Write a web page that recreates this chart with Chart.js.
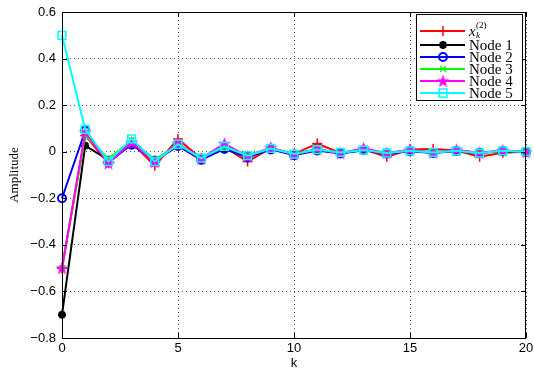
<!DOCTYPE html>
<html>
<head>
<meta charset="utf-8">
<script src="https://cdn.jsdelivr.net/npm/chart.js@4.4.0/dist/chart.umd.min.js"></script>
<style>
  html, body { margin: 0; padding: 0; background: #fff; }
  #wrap { width: 534px; height: 372px; }
</style>
</head>
<body>
<div id="wrap"><canvas id="chart"></canvas></div>
<script>
const steps = [0, 1, 2, 3, 4, 5, 6, 7, 8, 9, 10, 11, 12, 13, 14, 15, 16, 17, 18, 19, 20];

const xk2   = [-0.5, 0.07, -0.05, 0.04, -0.06, 0.055, -0.03, 0.02, -0.042, 0.015, -0.01, 0.035, -0.005, 0.01, -0.022, 0.01, 0.012, 0.005, -0.022, -0.004, 0];
const node1 = [-0.7, 0.026, -0.035, 0.035, -0.035, 0.025, -0.025, 0.015, -0.015, 0.012, -0.01, 0.008, -0.006, 0.006, -0.005, 0.004, -0.003, 0.003, -0.003, 0.002, 0];
const node2 = [-0.2, 0.09, -0.045, 0.03, -0.04, 0.025, -0.035, 0.012, -0.025, 0.01, -0.015, 0.005, -0.008, 0.006, -0.008, 0.002, -0.005, 0.003, -0.006, 0.002, -0.002];
const node3 = [-0.5, 0.07, -0.03, 0.05, -0.035, 0.03, -0.025, 0.02, -0.015, 0.015, -0.01, 0.01, -0.005, 0.008, -0.004, 0.005, -0.002, 0.004, -0.003, 0.003, 0];
const node4 = [-0.5, 0.085, -0.05, 0.04, -0.045, 0.035, -0.03, 0.035, -0.02, 0.018, -0.012, 0.012, -0.006, 0.015, -0.006, 0.008, -0.004, 0.008, -0.005, 0.006, -0.001];
const node5 = [0.5, 0.096, -0.042, 0.055, -0.042, 0.032, -0.028, 0.023, -0.017, 0.014, -0.01, 0.009, -0.003, 0.007, -0.006, 0.004, -0.003, 0.004, -0.006, 0.004, 0];

const legendNames = ['x_k^(2)', 'Node 1', 'Node 2', 'Node 3', 'Node 4', 'Node 5'];

// filled pentagram marker for Node 4
const pentagram = (() => {
    const c = document.createElement('canvas');
    c.width = 15; c.height = 15;
    const g = c.getContext('2d');
    g.beginPath();
    for (let i = 0; i < 10; i++) {
        const r = i % 2 ? 2.8 : 7;
        const a = -Math.PI / 2 + i * Math.PI / 5;
        g.lineTo(7.5 + r * Math.cos(a), 8 + r * Math.sin(a));
    }
    g.closePath();
    g.fillStyle = '#ff00ff';
    g.fill();
    return c;
})();

const mkSet = (label, data, color, style, radius, width, order) => ({
    label,
    data: steps.map((k, i) => ({ x: k, y: data[i] })),
    borderColor: color,
    borderWidth: 2,
    pointStyle: style,
    pointRadius: radius,
    pointBorderColor: color,
    pointBackgroundColor: 'rgba(0,0,0,0)',
    pointBorderWidth: width,
    tension: 0,
    clip: false,
    order
});

const datasets = [
    mkSet(legendNames[0], xk2, '#ff0000', 'cross', 5, 1.5, 5),
    mkSet(legendNames[1], node1, '#000000', 'star', 4, 2.5, 4),
    mkSet(legendNames[2], node2, '#0000ff', 'circle', 4, 2, 3),
    mkSet(legendNames[3], node3, '#00ff00', 'crossRot', 4, 1.5, 2),
    mkSet(legendNames[4], node4, '#ff00ff', pentagram, 7, 1, 1),
    mkSet(legendNames[5], node5, '#00ffff', 'rect', 5.5, 1.5, 0)
];

const fmtY = v => {
    const s = Math.abs(v) < 1e-9 ? '0' : v.toFixed(1);
    return s.replace('-', '\u2212');
};

// box, inward ticks and legend
const frame = {
    id: 'frame',
    afterDatasetsDraw(chart) {
        const { ctx, chartArea: a, scales } = chart;
        ctx.save();
        ctx.strokeStyle = '#000';
        ctx.lineWidth = 1;
        ctx.beginPath();
        scales.x.ticks.forEach(t => {
            const px = Math.round(scales.x.getPixelForValue(t.value)) + 0.5;
            ctx.moveTo(px, a.bottom); ctx.lineTo(px, a.bottom - 5);
            ctx.moveTo(px, a.top); ctx.lineTo(px, a.top + 5);
        });
        scales.y.ticks.forEach(t => {
            const py = Math.round(scales.y.getPixelForValue(t.value)) + 0.5;
            ctx.moveTo(a.left, py); ctx.lineTo(a.left + 5, py);
            ctx.moveTo(a.right, py); ctx.lineTo(a.right - 5, py);
        });
        ctx.stroke();
        ctx.strokeRect(a.left + 0.5, a.top + 0.5, a.right - a.left - 1, a.bottom - a.top);

        // legend
        const bx = 416, by = 14, bw = 106, bh = 86;
        ctx.fillStyle = '#fff';
        ctx.fillRect(bx, by, bw, bh);
        ctx.strokeRect(bx + 0.5, by + 0.5, bw, bh);
        const rows = [31, 45, 57, 69, 81, 93];
        datasets.forEach((ds, i) => {
            const y = rows[i];
            ctx.strokeStyle = ds.borderColor;
            ctx.lineWidth = 2;
            ctx.beginPath();
            ctx.moveTo(420, y); ctx.lineTo(465, y);
            ctx.stroke();
            ctx.fillStyle = 'rgba(0,0,0,0)';
            ctx.lineWidth = ds.pointBorderWidth;
            Chart.helpers.drawPoint(ctx, {
                pointStyle: ds.pointStyle,
                radius: ds.pointRadius,
                rotation: 0,
                borderWidth: ds.pointBorderWidth
            }, 443, y);
            ctx.fillStyle = '#000';
            ctx.textBaseline = 'middle';
            ctx.textAlign = 'left';
            if (i === 0) {
                ctx.font = 'italic 15px "Liberation Serif"';
                ctx.fillText('x', 469, y + 1);
                ctx.font = 'italic 9px "Liberation Serif"';
                ctx.fillText('k', 476, y + 5);
                ctx.font = '9px "Liberation Serif"';
                ctx.fillText('(2)', 476, y - 5);
            } else {
                ctx.font = '15px "Liberation Serif"';
                ctx.fillText(ds.label, 469, y + 1);
            }
        });
        ctx.restore();
    }
};

new Chart(document.getElementById('chart'), {
    type: 'line',
    data: { datasets },
    options: {
        animation: false,
        responsive: true,
        maintainAspectRatio: false,
        layout: { padding: { top: 12, right: 4, left: 0, bottom: 0 } },
        plugins: {
            legend: { display: false },
            tooltip: { enabled: false }
        },
        scales: {
            x: {
                type: 'linear',
                min: 0,
                max: 20,
                border: { display: false, dash: [1, 3] },
                grid: { color: '#555', drawTicks: false, lineWidth: 1 },
                ticks: {
                    stepSize: 5,
                    padding: 3,
                    color: '#000',
                    maxRotation: 0,
                    font: { family: '"Liberation Sans"', size: 13 },
                    callback: v => String(v)
                },
                title: {
                    display: true,
                    text: 'k',
                    color: '#000',
                    font: { family: '"Liberation Sans"', size: 13 },
                    padding: { top: 0, bottom: 1 }
                },
                afterFit: s => { s.height = 34; s.paddingLeft = 0; s.paddingRight = 0; }
            },
            y: {
                min: -0.8,
                max: 0.6,
                border: { display: false, dash: [1, 3] },
                grid: { color: '#555', drawTicks: false, lineWidth: 1 },
                ticks: {
                    stepSize: 0.2,
                    padding: 6,
                    color: '#000',
                    font: { family: '"Liberation Sans"', size: 13 },
                    callback: fmtY
                },
                title: {
                    display: true,
                    text: 'Amplitude',
                    color: '#000',
                    font: { family: '"Liberation Serif"', size: 13 },
                    padding: { top: 7, bottom: 0 }
                },
                afterFit: s => { s.width = 62; s.paddingTop = 0; s.paddingBottom = 0; }
            }
        }
    },
    plugins: [frame]
});
</script>
</body>
</html>
